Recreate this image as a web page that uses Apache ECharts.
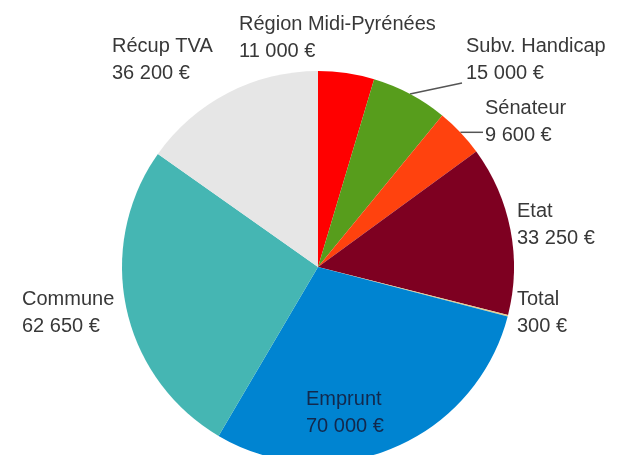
<!DOCTYPE html>
<html>
<head>
<meta charset="utf-8">
<script src="https://cdn.jsdelivr.net/npm/echarts@6/dist/echarts.min.js"></script>
<style>
  html, body { margin: 0; padding: 0; background: #fff; }
  #chart { width: 628px; height: 455px; }
</style>
</head>
<body>
<div id="chart"></div>
<script>
// données du graphique
const categories = ['Région Midi-Pyrénées', 'Subv. Handicap', 'Sénateur', 'Etat', 'Total', 'Emprunt', 'Commune', 'Récup TVA']
const amounts = [11000, 15000, 9600, 33250, 300, 70000, 62650, 36200]
const colors = ['#ff0000', '#579d1c', '#ff420e', '#7e0021', '#e3cf8f', '#0084d1', '#45b6b3', '#e6e6e6']

// position des étiquettes (coin haut gauche)
const labelPos = [
  [239, 11], [466, 33], [485, 95], [517, 198],
  [517, 286], [306, 386], [22, 286], [112, 33]
]
const withLeader = ['Subv. Handicap', 'Sénateur']

function euro (n) {
  return String(n).replace(/\B(?=(\d{3})+(?!\d))/g, ' ') + ' €'
}

const chart = echarts.init(document.getElementById('chart'))

const data = categories.map((name, i) => ({
  name: name,
  value: amounts[i],
  itemStyle: { color: colors[i] },
  label: name === 'Emprunt' ? { color: '#12294d' } : {},
  labelLine: { show: withLeader.indexOf(name) >= 0 }
}))

chart.setOption({
  animation: false,
  backgroundColor: '#fff',
  series: [
    {
      type: 'pie',
      center: [318, 267],
      radius: 196,
      startAngle: 90,
      clockwise: true,
      avoidLabelOverlap: false,
      itemStyle: { borderWidth: 0 },
      label: {
        show: true,
        position: 'outside',
        formatter: p => p.name + '\n' + euro(p.value),
        fontFamily: 'Liberation Sans',
        fontSize: 20,
        lineHeight: 27,
        color: '#383838',
        align: 'left'
      },
      labelLine: {
        show: false,
        lineStyle: { color: '#555', width: 1.5 }
      },
      labelLayout: function (params) {
        const pos = labelPos[params.dataIndex]
        const res = { x: pos[0], y: pos[1], align: 'left', verticalAlign: 'top' }
        const name = categories[params.dataIndex]
        if (withLeader.indexOf(name) >= 0 && params.labelLinePoints) {
          const start = params.labelLinePoints[0]
          let end
          if (name === 'Subv. Handicap') end = [pos[0] - 4, pos[1] + 50]
          else end = [pos[0] - 2, start[1]]
          res.labelLinePoints = [start, [(start[0] + end[0]) / 2, (start[1] + end[1]) / 2], end]
        }
        return res
      },
      data: data
    }
  ]
})
</script>
</body>
</html>
